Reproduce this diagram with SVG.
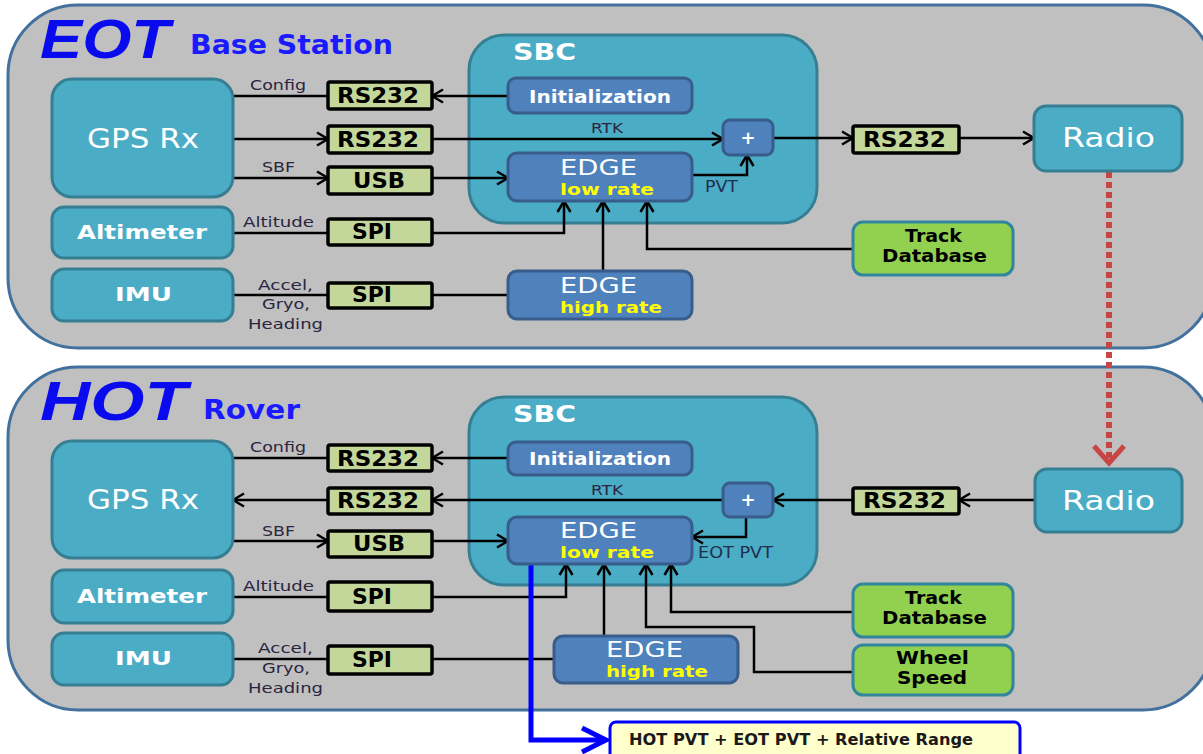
<svg xmlns="http://www.w3.org/2000/svg" width="1203" height="754" viewBox="0 0 1203 754">
<defs>
<style>
.panel{fill:#c0c0c0;stroke:#41719c;stroke-width:3}
.teal{fill:#4bacc6;stroke:#367f93;stroke-width:3}
.blue{fill:#4f81bd;stroke:#385d8a;stroke-width:3}
.green{fill:#92d050;stroke:#31859c;stroke-width:3}
.iface{fill:#c4d79b;stroke:#000;stroke-width:3.5}
.wire{fill:none;stroke:#000;stroke-width:2.5}
.arr{marker-end:url(#ah)}
text{font-family:"DejaVu Sans",Verdana,sans-serif}
.big{font-family:"Liberation Sans",Arial,sans-serif;font-weight:bold;font-style:italic;font-size:56px;fill:#0a0aee}
.sub{font-weight:bold;font-size:26px;fill:#1a1aff}
.gps{font-size:27px;fill:#fff}
.wb{font-weight:bold;font-size:20px;fill:#fff}
.if{font-weight:bold;font-size:21px;fill:#000}
.sbc{font-weight:bold;font-size:23px;fill:#fff}
.init{font-weight:bold;font-size:18px;fill:#fff}
.edge{font-size:22px;fill:#fff}
.rate{font-weight:bold;font-size:15px;fill:#ffff00}
.db{font-weight:bold;font-size:18px;fill:#000}
.lbl{font-size:14px;fill:#2b2540}
.res{font-weight:bold;font-size:15px;fill:#1a1a1a}
</style>
<marker id="ah" viewBox="0 0 14 16" markerWidth="14" markerHeight="16" refX="12.5" refY="8" orient="auto" markerUnits="userSpaceOnUse">
<path d="M1.5,1.5 L12.5,8 L1.5,14.5" fill="none" stroke="#000" stroke-width="2.5"/>
</marker>
</defs>
<rect width="1203" height="754" fill="#fff"/>

<g id="eot-panel">
<rect class="panel" x="8" y="5" width="1205" height="343" rx="70"/>
<text class="big" x="40" y="58" textLength="130" lengthAdjust="spacingAndGlyphs">EOT</text>
<text class="sub" x="190" y="54" textLength="203" lengthAdjust="spacingAndGlyphs">Base Station</text>
</g>
<g id="hot-panel">
<rect class="panel" x="8" y="367" width="1205" height="343" rx="70"/>
<text class="big" x="40" y="420" textLength="147" lengthAdjust="spacingAndGlyphs">HOT</text>
<text class="sub" x="203" y="419" textLength="97" lengthAdjust="spacingAndGlyphs">Rover</text>
</g>

<g id="eot-sbc"><rect class="teal" x="469" y="35" width="348" height="188" rx="35"/><text class="sbc" x="513" y="60" textLength="63" lengthAdjust="spacingAndGlyphs">SBC</text></g>
<g id="hot-sbc"><rect class="teal" x="469" y="397" width="348" height="188" rx="35"/><text class="sbc" x="513" y="422" textLength="63" lengthAdjust="spacingAndGlyphs">SBC</text></g>

<g id="connectors">
<path class="wire" d="M233,96 H328"/>
<path class="wire arr" d="M508,96 H432"/>
<path class="wire arr" d="M233,139 H328"/>
<path class="wire arr" d="M432,139 H723"/>
<path class="wire arr" d="M233,178 H328"/>
<path class="wire arr" d="M432,178 H508"/>
<path class="wire arr" d="M692,175 H747 V155"/>
<path class="wire arr" d="M773,138 H853"/>
<path class="wire arr" d="M959,138 H1034"/>
<path class="wire" d="M233,233 H328"/>
<path class="wire arr" d="M432,233 H564 V201"/>
<path class="wire arr" d="M603,271 V201"/>
<path class="wire arr" d="M853,249 H647 V201"/>
<path class="wire" d="M233,295 H328"/>
<path class="wire" d="M432,295 H508"/>
<path d="M1109,172 V460" fill="none" stroke="#c84545" stroke-width="6" stroke-dasharray="6 4"/>
<path d="M1094,446 L1109,463 L1124,446" fill="none" stroke="#c84545" stroke-width="5"/>
<path class="wire" d="M233,458 H328"/>
<path class="wire arr" d="M508,458 H432"/>
<path class="wire arr" d="M723,500 H432"/>
<path class="wire arr" d="M328,500 H233"/>
<path class="wire arr" d="M233,541 H328"/>
<path class="wire arr" d="M432,541 H508"/>
<path class="wire arr" d="M746,517 V537 H692"/>
<path class="wire arr" d="M1035,500 H959"/>
<path class="wire arr" d="M853,500 H773"/>
<path class="wire" d="M233,597 H328"/>
<path class="wire arr" d="M432,597 H566 V564"/>
<path class="wire arr" d="M604,636 V564"/>
<path class="wire arr" d="M853,672 H754 V627 H646 V564"/>
<path class="wire arr" d="M853,612 H671 V564"/>
<path class="wire" d="M233,659 H328"/>
<path class="wire" d="M432,659 H554"/>
<path d="M531,564 V740 H606" fill="none" stroke="#0000ff" stroke-width="5"/>
<path d="M582,728 L606,740 L582,752" fill="none" stroke="#0000ff" stroke-width="5"/>
</g>

<g id="eot-gps"><rect class="teal" x="52" y="79" width="181" height="118" rx="20"/><text class="gps" x="87" y="148" textLength="112" lengthAdjust="spacingAndGlyphs">GPS Rx</text></g>
<g id="eot-alt"><rect class="teal" x="52" y="207" width="181" height="51" rx="12"/><text class="wb" x="77" y="239" textLength="130" lengthAdjust="spacingAndGlyphs">Altimeter</text></g>
<g id="eot-imu"><rect class="teal" x="52" y="269" width="181" height="52" rx="12"/><text class="wb" x="115" y="301" textLength="57" lengthAdjust="spacingAndGlyphs">IMU</text></g>
<g id="eot-rs1"><rect class="iface" x="328" y="82" width="104" height="27" rx="2"/><text class="if" x="337" y="103" textLength="82" lengthAdjust="spacingAndGlyphs">RS232</text></g>
<g id="eot-rs2"><rect class="iface" x="328" y="126" width="104" height="27" rx="2"/><text class="if" x="337" y="147" textLength="82" lengthAdjust="spacingAndGlyphs">RS232</text></g>
<g id="eot-usb"><rect class="iface" x="328" y="167" width="104" height="27" rx="2"/><text class="if" x="353" y="188" textLength="52" lengthAdjust="spacingAndGlyphs">USB</text></g>
<g id="eot-spi1"><rect class="iface" x="328" y="219" width="104" height="26" rx="2"/><text class="if" x="352" y="239" textLength="40" lengthAdjust="spacingAndGlyphs">SPI</text></g>
<g id="eot-spi2"><rect class="iface" x="328" y="283" width="104" height="25" rx="2"/><text class="if" x="352" y="302" textLength="40" lengthAdjust="spacingAndGlyphs">SPI</text></g>
<g id="eot-init"><rect class="blue" x="508" y="78" width="184" height="35" rx="8"/><text class="init" x="529" y="103" textLength="142" lengthAdjust="spacingAndGlyphs">Initialization</text></g>
<g id="eot-plus"><rect class="blue" x="723" y="120" width="50" height="35" rx="7"/><text class="init" x="748" y="144" text-anchor="middle">+</text></g>
<g id="eot-edge-low"><rect class="blue" x="508" y="153" width="184" height="48" rx="9"/><text class="edge" x="560" y="175" textLength="77" lengthAdjust="spacingAndGlyphs">EDGE</text><text class="rate" x="560" y="195" textLength="94" lengthAdjust="spacingAndGlyphs">low rate</text></g>
<g id="eot-edge-high"><rect class="blue" x="508" y="271" width="184" height="48" rx="9"/><text class="edge" x="560" y="293" textLength="77" lengthAdjust="spacingAndGlyphs">EDGE</text><text class="rate" x="560" y="313" textLength="102" lengthAdjust="spacingAndGlyphs">high rate</text></g>
<g id="eot-rs3"><rect class="iface" x="853" y="126" width="106" height="27" rx="2"/><text class="if" x="863" y="147" textLength="83" lengthAdjust="spacingAndGlyphs">RS232</text></g>
<g id="eot-radio"><rect class="teal" x="1034" y="106" width="148" height="65" rx="12"/><text class="gps" x="1062" y="147" textLength="93" lengthAdjust="spacingAndGlyphs">Radio</text></g>
<g id="eot-track"><rect class="green" x="853" y="222" width="160" height="53" rx="10"/><text class="db" x="905" y="242" textLength="57" lengthAdjust="spacingAndGlyphs">Track</text><text class="db" x="882" y="262" textLength="105" lengthAdjust="spacingAndGlyphs">Database</text></g>

<g id="eot-labels">
<text class="lbl" x="250" y="90" textLength="56" lengthAdjust="spacingAndGlyphs">Config</text>
<text class="lbl" x="591" y="133" textLength="32" lengthAdjust="spacingAndGlyphs">RTK</text>
<text class="lbl" x="262" y="172" textLength="33" lengthAdjust="spacingAndGlyphs">SBF</text>
<text class="lbl" x="705" y="192" textLength="33" lengthAdjust="spacingAndGlyphs" style="fill:#1f2f4f;font-size:15px">PVT</text>
<text class="lbl" x="243" y="227" textLength="71" lengthAdjust="spacingAndGlyphs">Altitude</text>
<text class="lbl" x="258" y="290" textLength="55" lengthAdjust="spacingAndGlyphs">Accel,</text>
<text class="lbl" x="262" y="309" textLength="48" lengthAdjust="spacingAndGlyphs">Gryo,</text>
<text class="lbl" x="248" y="329" textLength="75" lengthAdjust="spacingAndGlyphs">Heading</text>
</g>

<g id="hot-gps"><rect class="teal" x="52" y="441" width="181" height="117" rx="20"/><text class="gps" x="87" y="509" textLength="112" lengthAdjust="spacingAndGlyphs">GPS Rx</text></g>
<g id="hot-alt"><rect class="teal" x="52" y="570" width="181" height="53" rx="12"/><text class="wb" x="77" y="603" textLength="130" lengthAdjust="spacingAndGlyphs">Altimeter</text></g>
<g id="hot-imu"><rect class="teal" x="52" y="633" width="181" height="52" rx="12"/><text class="wb" x="115" y="665" textLength="57" lengthAdjust="spacingAndGlyphs">IMU</text></g>
<g id="hot-rs1"><rect class="iface" x="328" y="445" width="104" height="26" rx="2"/><text class="if" x="337" y="466" textLength="82" lengthAdjust="spacingAndGlyphs">RS232</text></g>
<g id="hot-rs2"><rect class="iface" x="328" y="488" width="104" height="26" rx="2"/><text class="if" x="337" y="508" textLength="82" lengthAdjust="spacingAndGlyphs">RS232</text></g>
<g id="hot-usb"><rect class="iface" x="328" y="531" width="104" height="26" rx="2"/><text class="if" x="353" y="551" textLength="52" lengthAdjust="spacingAndGlyphs">USB</text></g>
<g id="hot-spi1"><rect class="iface" x="328" y="582" width="104" height="29" rx="2"/><text class="if" x="352" y="604" textLength="40" lengthAdjust="spacingAndGlyphs">SPI</text></g>
<g id="hot-spi2"><rect class="iface" x="328" y="646" width="104" height="28" rx="2"/><text class="if" x="352" y="667" textLength="40" lengthAdjust="spacingAndGlyphs">SPI</text></g>
<g id="hot-init"><rect class="blue" x="508" y="442" width="184" height="33" rx="8"/><text class="init" x="529" y="465" textLength="142" lengthAdjust="spacingAndGlyphs">Initialization</text></g>
<g id="hot-plus"><rect class="blue" x="723" y="483" width="50" height="34" rx="7"/><text class="init" x="748" y="506" text-anchor="middle">+</text></g>
<g id="hot-edge-low"><rect class="blue" x="508" y="517" width="184" height="47" rx="9"/><text class="edge" x="560" y="538" textLength="77" lengthAdjust="spacingAndGlyphs">EDGE</text><text class="rate" x="560" y="558" textLength="94" lengthAdjust="spacingAndGlyphs">low rate</text></g>
<g id="hot-edge-high"><rect class="blue" x="554" y="636" width="184" height="47" rx="9"/><text class="edge" x="606" y="657" textLength="77" lengthAdjust="spacingAndGlyphs">EDGE</text><text class="rate" x="606" y="677" textLength="102" lengthAdjust="spacingAndGlyphs">high rate</text></g>
<g id="hot-rs3"><rect class="iface" x="853" y="488" width="106" height="26" rx="2"/><text class="if" x="863" y="508" textLength="83" lengthAdjust="spacingAndGlyphs">RS232</text></g>
<g id="hot-radio"><rect class="teal" x="1035" y="469" width="147" height="63" rx="12"/><text class="gps" x="1062" y="510" textLength="93" lengthAdjust="spacingAndGlyphs">Radio</text></g>
<g id="hot-track"><rect class="green" x="853" y="584" width="160" height="53" rx="10"/><text class="db" x="905" y="604" textLength="57" lengthAdjust="spacingAndGlyphs">Track</text><text class="db" x="882" y="624" textLength="105" lengthAdjust="spacingAndGlyphs">Database</text></g>
<g id="hot-wheel"><rect class="green" x="853" y="645" width="160" height="50" rx="10"/><text class="db" x="896" y="664" textLength="73" lengthAdjust="spacingAndGlyphs">Wheel</text><text class="db" x="897" y="684" textLength="70" lengthAdjust="spacingAndGlyphs">Speed</text></g>

<g id="hot-labels">
<text class="lbl" x="250" y="452" textLength="56" lengthAdjust="spacingAndGlyphs">Config</text>
<text class="lbl" x="591" y="495" textLength="32" lengthAdjust="spacingAndGlyphs">RTK</text>
<text class="lbl" x="262" y="536" textLength="33" lengthAdjust="spacingAndGlyphs">SBF</text>
<text class="lbl" x="698" y="558" textLength="75" lengthAdjust="spacingAndGlyphs" style="fill:#1f2f4f;font-size:15px">EOT PVT</text>
<text class="lbl" x="243" y="591" textLength="71" lengthAdjust="spacingAndGlyphs">Altitude</text>
<text class="lbl" x="258" y="653" textLength="55" lengthAdjust="spacingAndGlyphs">Accel,</text>
<text class="lbl" x="262" y="673" textLength="48" lengthAdjust="spacingAndGlyphs">Gryo,</text>
<text class="lbl" x="248" y="693" textLength="75" lengthAdjust="spacingAndGlyphs">Heading</text>
</g>

<g id="result"><rect x="610" y="722" width="410" height="40" rx="6" fill="#ffffcc" stroke="#0000ff" stroke-width="3"/><text class="res" x="629" y="745" textLength="344" lengthAdjust="spacingAndGlyphs">HOT PVT + EOT PVT + Relative Range</text></g>
</svg>
